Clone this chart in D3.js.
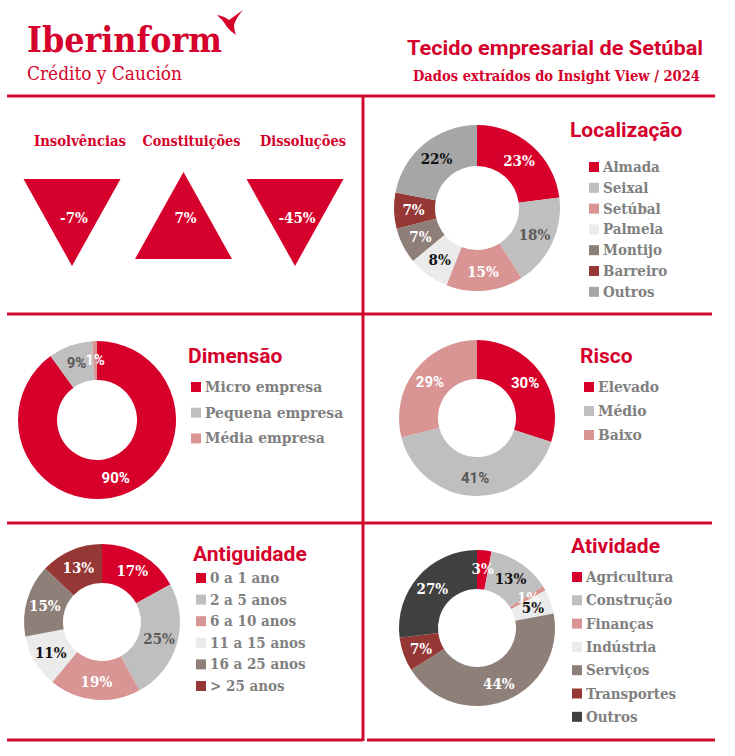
<!DOCTYPE html>
<html>
<head>
<meta charset="utf-8">
<script src="https://cdn.jsdelivr.net/npm/d3@7"></script>
<style>
  body { margin: 0; background: #fff; }
  svg { display: block; }
</style>
</head>
<body>
<svg id="chart" width="735" height="756"></svg>
<script>
// indicadores (variação)
const indLabels = ['Insolvências', 'Constituições', 'Dissoluções']
const indValues = [-7, 7, -45]

const locLabels = ['Almada', 'Seixal', 'Setúbal', 'Palmela', 'Montijo', 'Barreiro', 'Outros']
const locValues = [23, 18, 15, 8, 7, 7, 22]

const dimLabels = ['Micro empresa', 'Pequena empresa', 'Média empresa']
const dimValues = [90, 9, 1]

const riscoLabels = ['Elevado', 'Médio', 'Baixo']
const riscoValues = [30, 41, 29]

const antLabels = ['0 a 1 ano', '2 a 5 anos', '6 a 10 anos', '11 a 15 anos', '16 a 25 anos', '> 25 anos']
const antValues = [17, 25, 19, 11, 15, 13]

const atvLabels = ['Agricultura', 'Construção', 'Finanças', 'Indústria', 'Serviços', 'Transportes', 'Outros']
const atvValues = [3, 13, 1, 5, 44, 7, 27]

const RED = '#D5002B'
const LINE = '#CF0A2C'
const GREY_TXT = '#808080'
const SLAB = "'DejaVu Serif Condensed', 'DejaVu Serif', serif"
const SANS = "Roboto, 'Open Sans', sans-serif"

const svg = d3.select('#chart')

// ---- cabeçalho
svg.append('text')
  .attr('x', 27).attr('y', 52)
  .attr('font-family', SLAB).attr('font-weight', 'bold').attr('font-size', 36)
  .attr('textLength', 195).attr('lengthAdjust', 'spacingAndGlyphs')
  .attr('fill', RED).text('Iberinform')
svg.append('text')
  .attr('x', 27).attr('y', 80)
  .attr('font-family', SLAB).attr('font-size', 19)
  .attr('textLength', 155).attr('lengthAdjust', 'spacingAndGlyphs')
  .attr('fill', RED).text('Crédito y Caución')
// pássaro do logo
svg.append('path')
  .attr('d', 'M217,15 Q224,16 229,20 L243,10 Q236,18 234,25 Q234,30 236,35 Q230,31 227,27 Q223,20 217,15 Z')
  .attr('fill', RED)

svg.append('text')
  .attr('x', 703).attr('y', 55).attr('text-anchor', 'end')
  .attr('font-family', SANS).attr('font-weight', 'bold').attr('font-size', 20)
  .attr('textLength', 296).attr('lengthAdjust', 'spacingAndGlyphs')
  .attr('fill', RED).text('Tecido empresarial de Setúbal')
svg.append('text')
  .attr('x', 700).attr('y', 81).attr('text-anchor', 'end')
  .attr('font-family', SLAB).attr('font-weight', 'bold').attr('font-size', 15)
  .attr('textLength', 287).attr('lengthAdjust', 'spacingAndGlyphs')
  .attr('fill', RED).text('Dados extraídos do Insight View / 2024')

// ---- linhas da grelha
const hLines = [[7, 715, 96], [7, 712, 314], [7, 712, 523], [7, 363, 740], [367, 715, 740]]
hLines.forEach(l => {
  svg.append('line').attr('x1', l[0]).attr('x2', l[1]).attr('y1', l[2]).attr('y2', l[2])
    .attr('stroke', LINE).attr('stroke-width', 3)
})
svg.append('line').attr('x1', 363).attr('x2', 363).attr('y1', 96).attr('y2', 741)
  .attr('stroke', LINE).attr('stroke-width', 3)

// ---- triângulos
const xInd = d3.scalePoint().domain(indLabels).range([72, 295])
const labW = [92, 98, 86]
const triW = 97
const triH = 87
indLabels.forEach((name, i) => {
  const v = indValues[i]
  const cx = xInd(name)
  svg.append('text')
    .attr('x', cx + 8).attr('y', 146).attr('text-anchor', 'middle')
    .attr('font-family', SLAB).attr('font-weight', 'bold').attr('font-size', 15)
    .attr('textLength', labW[i]).attr('lengthAdjust', 'spacingAndGlyphs')
    .attr('fill', RED).text(name)
  let pts
  if (v < 0) {
    pts = [[cx - triW / 2, 179], [cx + triW / 2, 179], [cx, 179 + triH]]
  } else {
    pts = [[cx, 172], [cx + triW / 2, 172 + triH], [cx - triW / 2, 172 + triH]]
  }
  svg.append('path').attr('d', d3.line()(pts) + 'Z').attr('fill', RED)
  svg.append('text')
    .attr('x', cx + 2).attr('y', 218).attr('dy', '0.35em').attr('text-anchor', 'middle')
    .attr('font-family', SLAB).attr('font-weight', 'bold').attr('font-size', 15)
    .attr('fill', '#fff').text(v + '%')
})

// ---- donuts
const C = {
  red: '#D7002A', lgrey: '#BFBFBF', pink: '#D99594', vlight: '#EBEBEB',
  taupe: '#8E8079', brown: '#953735', mgrey: '#A6A6A6', dark: '#404040'
}

function donut (cfg) {
  const g = svg.append('g').attr('transform', `translate(${cfg.cx},${cfg.cy})`)
  const pie = d3.pie().sort(null).value(d => d)
  const arcs = pie(cfg.values)
  const arc = d3.arc().innerRadius(cfg.r0).outerRadius(cfg.r1)
  const mid = d3.arc().innerRadius((cfg.r0 + cfg.r1) / 2 + 1).outerRadius((cfg.r0 + cfg.r1) / 2 + 1)

  g.selectAll('path').data(arcs).enter().append('path')
    .attr('d', arc)
    .attr('fill', (d, i) => cfg.colors[i])

  g.selectAll('text.pct').data(arcs).enter().append('text')
    .attr('class', 'pct')
    .attr('x', d => mid.centroid(d)[0])
    .attr('y', d => mid.centroid(d)[1])
    .attr('dy', '0.36em')
    .attr('text-anchor', 'middle')
    .attr('font-family', (d, i) => cfg.pctSans ? SANS : SLAB)
    .attr('font-weight', 'bold')
    .attr('font-size', 15)
    .attr('fill', (d, i) => cfg.txt[i])
    .text(d => d.data + '%')

  svg.append('text')
    .attr('x', cfg.tx).attr('y', cfg.ty)
    .attr('font-family', SANS).attr('font-weight', 'bold').attr('font-size', 21)
    .attr('fill', RED).text(cfg.title)

  const lg = svg.append('g')
  cfg.labels.forEach((lab, i) => {
    const y = cfg.ly + i * cfg.step
    lg.append('rect').attr('x', cfg.lx).attr('y', y - 10).attr('width', 10).attr('height', 10)
      .attr('fill', cfg.colors[i])
    lg.append('text').attr('x', cfg.lx + 14).attr('y', y)
      .attr('font-family', SLAB).attr('font-weight', 'bold').attr('font-size', cfg.fs || 15)
      .attr('fill', GREY_TXT).text(lab)
  })
}

const W = '#fff'
const DG = '#595959'
const BK = '#111'

donut({
  cx: 477, cy: 208, r0: 42, r1: 83, values: locValues, labels: locLabels,
  colors: [C.red, C.lgrey, C.pink, C.vlight, C.taupe, C.brown, C.mgrey],
  txt: [W, DG, W, BK, W, W, BK],
  title: 'Localização', tx: 570, ty: 137, lx: 589, ly: 172, step: 20.8
})

donut({
  cx: 97, cy: 420, r0: 40, r1: 79, values: dimValues, labels: dimLabels,
  colors: [C.red, C.lgrey, C.pink], pctSans: true,
  txt: [W, DG, W],
  title: 'Dimensão', tx: 188, ty: 363, lx: 191, ly: 392, step: 25.7, fs: 15.5
})

donut({
  cx: 477, cy: 418, r0: 39, r1: 78, values: riscoValues, labels: riscoLabels,
  colors: [C.red, C.lgrey, C.pink], pctSans: true,
  txt: [W, DG, W],
  title: 'Risco', tx: 580, ty: 363, lx: 584, ly: 392, step: 24, fs: 15.5
})

donut({
  cx: 102, cy: 622, r0: 39, r1: 78, values: antValues, labels: antLabels,
  colors: [C.red, C.lgrey, C.pink, C.vlight, C.taupe, C.brown],
  txt: [W, DG, W, BK, W, W],
  title: 'Antiguidade', tx: 193, ty: 561, lx: 196, ly: 583, step: 21.6
})

donut({
  cx: 477, cy: 628, r0: 39, r1: 78, values: atvValues, labels: atvLabels,
  colors: [C.red, C.lgrey, C.pink, C.vlight, C.taupe, C.brown, C.dark],
  txt: [W, BK, W, BK, W, W, W],
  title: 'Atividade', tx: 571, ty: 553, lx: 572, ly: 582, step: 23.3
})
</script>
</body>
</html>
